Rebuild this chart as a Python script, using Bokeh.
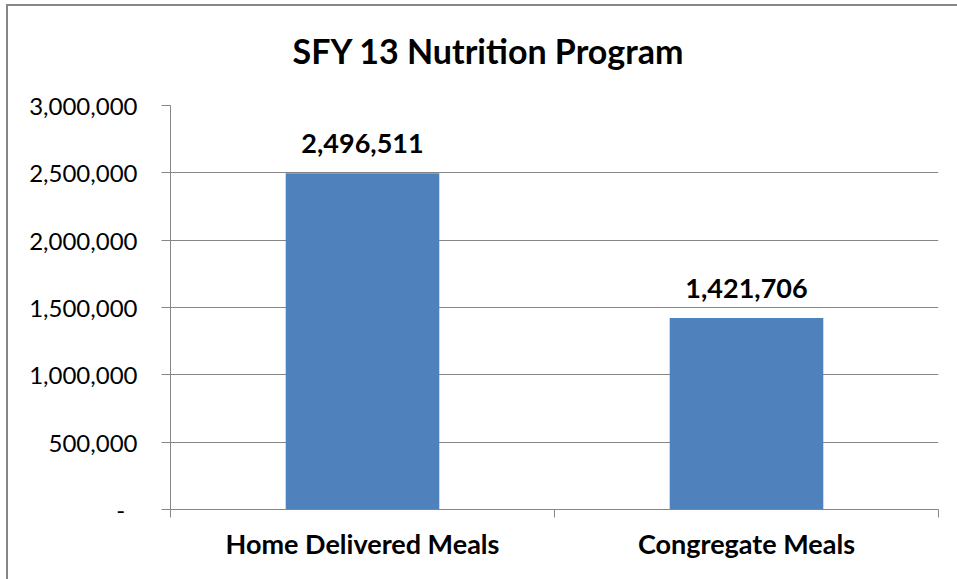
from bokeh.plotting import figure
from bokeh.models import (Range1d, LinearAxis, FixedTicker, SingleIntervalTicker,
                          CustomJSTickFormatter, ColumnDataSource, InlineStyleSheet)
from bokeh.core.properties import value
from bokeh.embed import file_html
from bokeh.resources import INLINE

title_text = "SFY 13 Nutrition Program"
categories = ["Home Delivered Meals", "Congregate Meals"]
meals = [2496511, 1421706]
y_max = 3000000
y_step = 500000

GRAY = "#868686"
BLUE = "#4F81BD"

SHIFT = 8  # canvas is lifted by this many pixels so the title can sit higher
W, H = 957, 579 + SHIFT
p = figure(width=W, height=H, output_backend="svg", toolbar_location=None,
           x_range=Range1d(0, len(categories)), y_range=Range1d(0, y_max),
           x_axis_location=None, y_axis_location=None,
           min_border_left=170, min_border_right=19, min_border_top=105 + SHIFT,
           min_border_bottom=70)
p.outline_line_color = None
p.background_fill_color = "white"
p.border_fill_color = "white"

# title
p.title.text = title_text
p.title.text_font = "Lato"
p.title.text_font_style = "bold"
p.title.text_font_size = "34px"
p.title.align = "left"
p.title.offset = 122
p.title.standoff = 61 + SHIFT
p.title.text_color = "black"

# y axis
yax = LinearAxis(ticker=SingleIntervalTicker(interval=y_step),
                 formatter=CustomJSTickFormatter(code="""
                    if (tick == 0) { return '-\u00a0\u00a0'; }
                    return Math.round(tick).toLocaleString('en-US');
                 """))
yax.axis_line_color = GRAY
yax.axis_line_width = 1
yax.major_tick_line_color = GRAY
yax.major_tick_out = 9
yax.major_tick_in = 0
yax.minor_tick_line_color = None
yax.major_label_text_font = "Lato"
yax.major_label_text_font_size = "24px"
yax.major_label_text_color = "black"
yax.major_label_standoff = 24
p.add_layout(yax, "left")

p.ygrid.ticker = SingleIntervalTicker(interval=y_step)
p.ygrid.grid_line_color = GRAY
p.xgrid.grid_line_color = None

# x axis: boundary ticks
n = len(categories)
xax = LinearAxis(ticker=FixedTicker(ticks=list(range(n + 1))))
xax.major_label_overrides = {i: "" for i in range(n + 1)}
xax.major_label_text_font_size = "1px"
xax.major_label_standoff = 0
xax.axis_line_color = GRAY
xax.major_tick_line_color = GRAY
xax.major_tick_out = 8
xax.major_tick_in = 0
xax.minor_tick_line_color = None
p.add_layout(xax, "below")

# x axis: category labels
centers = [i + 0.5 for i in range(n)]
cax = LinearAxis(ticker=FixedTicker(ticks=centers))
cax.major_label_overrides = {c: lab for c, lab in zip(centers, categories)}
cax.axis_line_color = None
cax.major_tick_line_color = None
cax.minor_tick_line_color = None
cax.major_tick_out = 0
cax.major_tick_in = 0
cax.major_label_text_font = "Lato"
cax.major_label_text_font_style = "bold"
cax.major_label_text_font_size = "27px"
cax.major_label_text_color = "black"
cax.major_label_standoff = 9
p.add_layout(cax, "below")

src = ColumnDataSource(dict(x=centers, top=meals,
                            label=[f"{v:,}" for v in meals]))
p.vbar(x="x", top="top", width=0.4, bottom=0, source=src,
       fill_color=BLUE, line_color=None)
p.text(x="x", y="top", text="label", source=src, text_align="center",
       text_baseline="alphabetic", y_offset=-30,
       text_font=value("Lato"), text_font_style="bold",
       text_font_size="27px", text_color="black")

# outer chart border (left and top edges visible, others run off the page)
p.stylesheets = [InlineStyleSheet(css="""
:host { position: relative; }
:host::after {
  content: "";
  position: absolute;
  left: 6px; top: %dpx; width: 1000px; height: 1000px;
  border: 2px solid #868686;
  box-sizing: border-box;
  pointer-events: none;
  z-index: 100;
}
""" % (4 + SHIFT))]
p.styles = {"overflow": "hidden", "margin-top": "-%dpx" % SHIFT}

open("out.html", "w").write(file_html(p, INLINE))
